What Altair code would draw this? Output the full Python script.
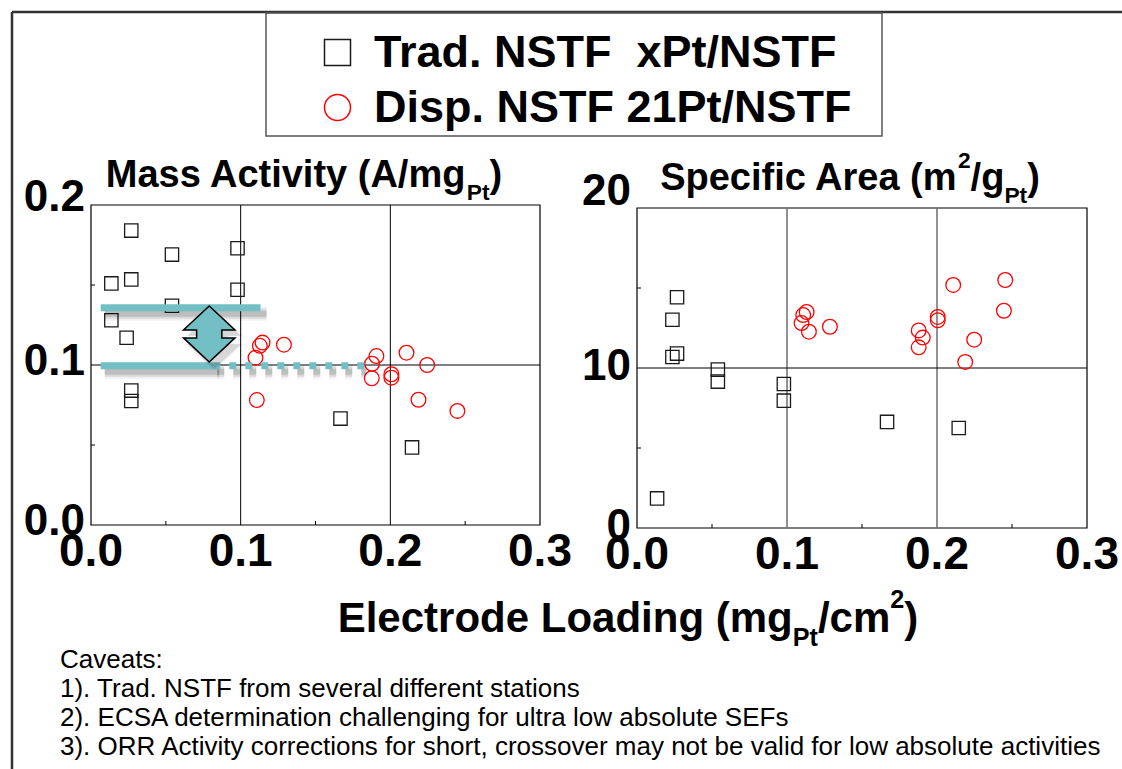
import altair as alt
import pandas as pd

# ---------------------------------------------------------------- data
SERIES = ["Trad. NSTF\u00a0\u00a0xPt/NSTF", "Disp. NSTF 21Pt/NSTF"]

# Mass activity (A/mg_Pt) vs electrode loading (mg_Pt/cm^2)
trad_mass_x = [0.0269, 0.0541, 0.0979, 0.0136, 0.0269, 0.0979, 0.0541,
               0.0136, 0.0238, 0.0269, 0.0269, 0.1667, 0.2145]
trad_mass_y = [0.184, 0.169, 0.173, 0.151, 0.1535, 0.147, 0.137,
               0.128, 0.117, 0.084, 0.0775, 0.0665, 0.0485]
disp_mass_x = [0.1146, 0.1128, 0.1289, 0.1099, 0.1108, 0.1907, 0.1878,
               0.1876, 0.2007, 0.2007, 0.2108, 0.2246, 0.2188, 0.2448]
disp_mass_y = [0.114, 0.112, 0.1127, 0.1046, 0.0781, 0.1056, 0.1008,
               0.0917, 0.0942, 0.0921, 0.1077, 0.100, 0.0783, 0.0713]

# Specific area (m^2/g_Pt) vs electrode loading
trad_area_x = [0.0267, 0.0236, 0.0236, 0.0267, 0.0539, 0.0539, 0.0979,
               0.0979, 0.1667, 0.2145, 0.0134]
trad_area_y = [14.42, 13.02, 10.69, 10.90, 9.90, 9.15, 9.00,
               7.96, 6.63, 6.25, 1.85]
disp_area_x = [0.1131, 0.1108, 0.1097, 0.1146, 0.1286, 0.1878, 0.1905,
               0.1878, 0.2005, 0.2005, 0.2108, 0.2455, 0.2446, 0.2248, 0.2188]
disp_area_y = [13.50, 13.31, 12.81, 12.27, 12.58, 12.35, 11.90,
               11.29, 13.19, 12.98, 15.19, 15.50, 13.58, 11.77, 10.38]

# Activity gap annotation on the mass-activity panel (data units)
band_y = [0.1358, 0.0996]
band_x0 = [0.0065, 0.0065]
band_x1 = [0.1133, 0.0817]
dash_x0 = [0.0817]
dash_x1 = [0.184]
dash_y = [0.0996]
arrow_x = [0.079]
arrow_y = [0.1194]

# Axes
x_ticks = [0.0, 0.1, 0.2, 0.3]
x_minor = [0.05, 0.15, 0.25]
mass_ticks = [0.0, 0.1, 0.2]
mass_minor = [0.05, 0.15]
area_ticks = [0, 10, 20]
area_minor = [5, 15]

caveats = [
    "Caveats:",
    "1). Trad. NSTF from several different stations",
    "2). ECSA determination challenging for ultra low absolute SEFs",
    "3). ORR Activity corrections for short, crossover may not be valid for low absolute activities",
]

# ---------------------------------------------------------------- style
FONT = "Liberation Sans, Arial, Helvetica, sans-serif"
TEAL = "#72bfc5"
SQ_COLOR = "#1a1a1a"
CIRC_COLOR = "#ff0000"

# pixel placement of the two panels inside the 1122 x 769 canvas
PANELS = {
    "mass": dict(xr=[91, 540], yr=[525, 205], ydom=[0, 0.2], grid="#000000", gw=1.0,
                 fmt=".1f", dy=10, dy_top=6),
    "area": dict(xr=[637, 1087], yr=[528, 208], ydom=[0, 20], grid="#6e6e6e", gw=1.5,
                 fmt="d", dy=12, dy_top=-3),
}

# Arial / Liberation Sans Bold advance widths (1/1000 em)
BOLD_W = {" ": 278, "(": 333, ")": 333, "/": 278, "2": 556, "A": 722, "C": 722,
          "E": 667, "L": 611, "M": 833, "P": 667, "S": 667, "a": 556, "c": 556,
          "d": 611, "e": 556, "f": 333, "g": 611, "i": 278, "l": 278, "m": 889,
          "n": 611, "o": 611, "p": 611, "r": 389, "s": 556, "t": 333, "v": 556,
          "y": 556}


def bold_width(s, size):
    return sum(BOLD_W.get(c, 556) for c in s) / 1000.0 * size


def xs(p):
    return alt.Scale(domain=[0, 0.3], range=PANELS[p]["xr"], nice=False, zero=False)


def ys(p):
    return alt.Scale(domain=PANELS[p]["ydom"], range=PANELS[p]["yr"], nice=False, zero=False)


def X(field, p):
    return alt.X(field, type="quantitative", scale=xs(p), axis=None)


def Y(field, p):
    return alt.Y(field, type="quantitative", scale=ys(p), axis=None)


legend = alt.Legend(
    orient="none", legendX=315, legendY=30, title=None, padding=0,
    labelFont=FONT, labelFontWeight="bold", labelFontSize=45, labelColor="black",
    labelLimit=1000, labelOffset=14, rowPadding=9, symbolSize=676,
    symbolStrokeWidth=1.5, symbolFillColor="transparent",
)
color_enc = alt.Color("series:N", scale=alt.Scale(domain=SERIES, range=[SQ_COLOR, CIRC_COLOR]), legend=legend)
shape_enc = alt.Shape("series:N", scale=alt.Scale(domain=SERIES, range=["square", "circle"]), legend=legend)


def points(xv, yv, series, p, size):
    df = pd.DataFrame({"x": xv, "y": yv, "series": series})
    return alt.Chart(df).mark_point(filled=False, size=size, strokeWidth=1.3, opacity=1).encode(
        x=X("x", p), y=Y("y", p), color=color_enc, shape=shape_enc)


def panel_frame(p):
    ymax = PANELS[p]["ydom"][1]
    ymid = ymax / 2
    g, gw = PANELS[p]["grid"], PANELS[p]["gw"]
    box = alt.Chart(pd.DataFrame({"x0": [0], "x1": [0.3], "y0": [0], "y1": [ymax]})).mark_rect(
        filled=False, stroke="black", strokeWidth=1.2).encode(
        x=X("x0", p), x2="x1", y=Y("y0", p), y2="y1")
    vgrid = alt.Chart(pd.DataFrame({"x": [0.1, 0.2], "y0": [0, 0], "y1": [ymax, ymax]})).mark_rule(
        color=g, strokeWidth=gw).encode(x=X("x", p), y=Y("y0", p), y2="y1")
    hgrid = alt.Chart(pd.DataFrame({"y": [ymid], "x0": [0], "x1": [0.3]})).mark_rule(
        color="black", strokeWidth=1.0).encode(x=X("x0", p), x2="x1", y=Y("y", p))
    xmin = alt.Chart(pd.DataFrame({"x": x_minor, "y": [0] * len(x_minor)})).mark_rule(
        color="black", strokeWidth=1, y2Offset=-4).encode(x=X("x", p), y=Y("y", p), y2="y")
    yminor = mass_minor if p == "mass" else area_minor
    ymin = alt.Chart(pd.DataFrame({"y": yminor, "x": [0] * len(yminor)})).mark_rule(
        color="black", strokeWidth=1, x2Offset=4).encode(x=X("x", p), x2="x", y=Y("y", p))
    return [box, vgrid, hgrid, xmin, ymin]


def tick_labels(p):
    cfg = PANELS[p]
    yticks = mass_ticks if p == "mass" else area_ticks
    xl = alt.Chart(pd.DataFrame({"v": x_ticks, "y": [0] * len(x_ticks)})).mark_text(
        font=FONT, fontWeight="bold", fontSize=46, align="center", baseline="alphabetic",
        dy=41, color="black").encode(x=X("v", p), y=Y("y", p), text=alt.Text("v:Q", format=".1f"))
    out = [xl]
    # the top label sits a little higher than the others
    for vals, dy in ((yticks[:-1], cfg["dy"]), (yticks[-1:], cfg["dy_top"])):
        out.append(alt.Chart(pd.DataFrame({"v": vals, "x": [0] * len(vals)})).mark_text(
            font=FONT, fontWeight="bold", fontSize=44, align="right", baseline="alphabetic",
            dx=-6, dy=dy, color="black").encode(
            x=X("x", p), y=Y("v", p), text=alt.Text("v:Q", format=cfg["fmt"])))
    return out


def rich(pieces, cx, base, size):
    """Bold text with sub/superscript pieces, centred at cx on baseline `base`."""
    spec = []
    for txt, kind in pieces:
        s = size if kind == "n" else size * 0.6
        off = 0 if kind == "n" else (0.33 * size if kind == "sub" else -0.58 * size)
        spec.append((txt, s, off))
    total = sum(bold_width(t, s) for t, s, _ in spec)
    x = cx - total / 2
    out = []
    for t, s, off in spec:
        out.append(alt.Chart(pd.DataFrame({"t": [t]})).mark_text(
            font=FONT, fontWeight="bold", fontSize=s, align="left", baseline="alphabetic",
            color="black").encode(x=alt.value(x), y=alt.value(base + off), text="t:N"))
        x += bold_width(t, s)
    return out


# ---------------------------------------------------------------- layers
layers = []

# outer slide frame
frame_df = pd.DataFrame({"k": [0]})
layers.append(alt.Chart(frame_df).mark_rule(color="#333333", strokeWidth=2.5).encode(
    x=alt.value(12), x2=alt.value(1122), y=alt.value(12)))
layers.append(alt.Chart(frame_df).mark_rule(color="#333333", strokeWidth=2.5).encode(
    x=alt.value(12), y=alt.value(12), y2=alt.value(769)))
# legend box
layers.append(alt.Chart(frame_df).mark_rect(filled=False, stroke="#555555", strokeWidth=1.5).encode(
    x=alt.value(266), x2=alt.value(882), y=alt.value(13), y2=alt.value(136)))

for p in ("mass", "area"):
    layers += panel_frame(p)

layers.append(points(trad_mass_x, trad_mass_y, SERIES[0], "mass", 177))
layers.append(points(disp_mass_x, disp_mass_y, SERIES[1], "mass", 216))
layers.append(points(trad_area_x, trad_area_y, SERIES[0], "area", 177))
layers.append(points(disp_area_x, disp_area_y, SERIES[1], "area", 216))

# teal gap bands with soft drop shadows
band_df = pd.DataFrame({"x0": band_x0, "x1": band_x1, "y": band_y})
dash_df = pd.DataFrame({"x0": dash_x0, "x1": dash_x1, "y": dash_y})
for w, op in ((14, 0.06), (10, 0.09), (6, 0.13)):
    layers.append(alt.Chart(band_df).mark_rule(color="black", opacity=op, strokeWidth=w,
                                               xOffset=4, yOffset=6, x2Offset=6).encode(
        x=X("x0", "mass"), x2="x1", y=Y("y", "mass")))
    layers.append(alt.Chart(dash_df).mark_rule(color="black", opacity=op, strokeWidth=w,
                                               strokeDash=[7, 9], xOffset=4, yOffset=6).encode(
        x=X("x0", "mass"), x2="x1", y=Y("y", "mass")))
layers.append(alt.Chart(band_df).mark_rule(color=TEAL, strokeWidth=7).encode(
    x=X("x0", "mass"), x2="x1", y=Y("y", "mass")))
layers.append(alt.Chart(dash_df).mark_rule(color=TEAL, strokeWidth=7, strokeDash=[7, 9]).encode(
    x=X("x0", "mass"), x2="x1", y=Y("y", "mass")))

ARROW = ("M0,-1 L0.92,-0.14 L0.45,-0.14 L0.45,0.14 L0.92,0.14 L0,1 "
         "L-0.92,0.14 L-0.45,0.14 L-0.45,-0.14 L-0.92,-0.14 Z")
arrow_df = pd.DataFrame({"x": arrow_x, "y": arrow_y})
for sz, op in ((3800, 0.06), (3400, 0.1)):
    layers.append(alt.Chart(arrow_df).mark_point(shape=ARROW, size=sz, filled=True, color="black",
                                                 opacity=op, strokeWidth=0, xOffset=5, yOffset=6).encode(
        x=X("x", "mass"), y=Y("y", "mass")))
layers.append(alt.Chart(arrow_df).mark_point(shape=ARROW, size=3136, filled=True, fill=TEAL,
                                             stroke="black", strokeWidth=1.5, opacity=1).encode(
    x=X("x", "mass"), y=Y("y", "mass")))

for p in ("mass", "area"):
    layers += tick_labels(p)

# titles
layers += rich([("Mass Activity (A/mg", "n"), ("Pt", "sub"), (")", "n")], 304, 187, 38)
layers += rich([("Specific Area (m", "n"), ("2", "sup"), ("/g", "n"), ("Pt", "sub"), (")", "n")], 850, 190, 38)
layers += rich([("Electrode Loading (mg", "n"), ("Pt", "sub"), ("/cm", "n"), ("2", "sup"), (")", "n")], 628, 632, 42)

# caveats
for i, line in enumerate(caveats):
    layers.append(alt.Chart(pd.DataFrame({"t": [line]})).mark_text(
        font=FONT, fontSize=26, align="left", baseline="alphabetic", color="black").encode(
        x=alt.value(60), y=alt.value(668 + 29 * i), text="t:N"))

chart = alt.layer(*layers).resolve_scale(x="independent", y="independent").properties(
    width=1122, height=769, padding=0, autosize=alt.AutoSizeParams(type="none"),
    background="white",
).configure_view(strokeWidth=0)

chart.save("out.html", embed_options={"renderer": "svg", "actions": False})
